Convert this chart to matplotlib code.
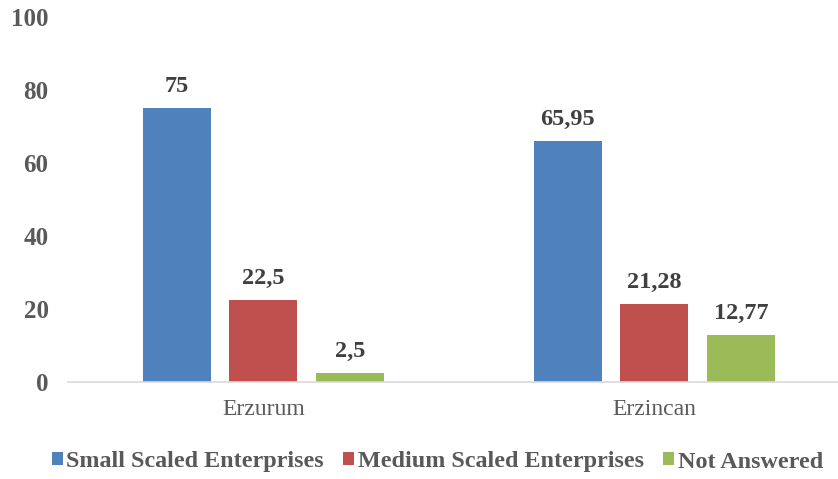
import matplotlib
matplotlib.use("Agg")
import matplotlib.pyplot as plt
import numpy as np

plt.rcParams['font.family'] = ['Liberation Serif', 'DejaVu Serif']

regions = ["Erzurum", "Erzincan"]
series = ["Small Scaled Enterprises", "Medium Scaled Enterprises", "Not Answered"]
small = [75, 65.95]
medium = [22.5, 21.28]
not_answered = [2.5, 12.77]
labels = [["75", "65,95"], ["22,5", "21,28"], ["2,5", "12,77"]]
colors = ["#4F81BD", "#C0504D", "#9BBB59"]

W, H = 838, 479
fig = plt.figure(figsize=(W / 100, H / 100), dpi=100)
ax = fig.add_axes([68 / W, (H - 382) / H, (W - 68) / W, (382 - 17) / H])

x = np.arange(len(regions))
width = 0.174
step = 0.222
for i, (vals, col, name) in enumerate(zip([small, medium, not_answered], colors, series)):
    pos = x + (i - 1) * step
    bars = ax.bar(pos, vals, width, color=col, label=name)
    for b, txt in zip(bars, labels[i]):
        ax.annotate(txt, (b.get_x() + b.get_width() / 2, b.get_height()),
                    xytext=(0, 8), textcoords="offset points", ha="center", va="bottom",
                    fontsize=17.5, fontweight="bold", color="#404040")

ax.set_xlim(-0.5, 1.47)
ax.set_ylim(0, 100)
ax.set_yticks([0, 20, 40, 60, 80, 100])
ax.set_xticks(x)
ax.set_xticklabels(regions, fontsize=17, color="#595959")
for t in ax.get_yticklabels():
    t.set_fontweight("bold")
    t.set_fontsize(18)
    t.set_color("#595959")
ax.tick_params(axis="y", length=0, pad=14)
ax.tick_params(axis="x", length=0, pad=12)
for s in ["top", "right", "left"]:
    ax.spines[s].set_visible(False)
ax.spines["bottom"].set_color("#D9D9D9")
ax.spines["bottom"].set_linewidth(1.2)

leg = fig.legend(loc="center", bbox_to_anchor=(0.522, (H - 462) / H), ncol=3, frameon=False,
                 prop={"weight": "bold", "size": 17.4}, handlelength=0.45, handleheight=0.45,
                 handletextpad=0.15, columnspacing=0.8)
for t in leg.get_texts():
    t.set_color("#595959")

fig.savefig("out.png", dpi=100)
